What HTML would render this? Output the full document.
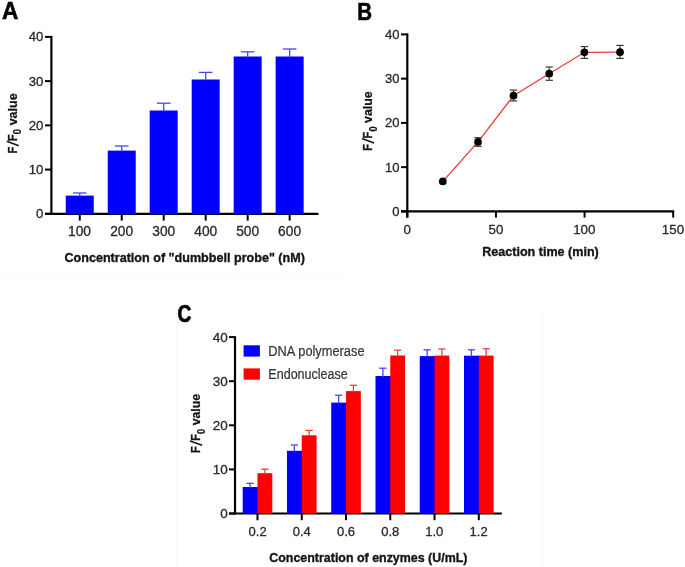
<!DOCTYPE html>
<html><head><meta charset="utf-8"><style>
html,body{margin:0;padding:0;background:#fff;}
body{width:685px;height:567px;overflow:hidden;}
svg{display:block;font-family:"Liberation Sans",sans-serif;filter:blur(0.45px);}
</style></head><body>
<svg width="685" height="567" viewBox="0 0 685 567">
<rect width="685" height="567" fill="#fff"/>
<line x1="176.80" y1="310.00" x2="176.80" y2="567.00" stroke="#f6f6f6" stroke-width="1" />
<line x1="542.00" y1="312.00" x2="542.00" y2="567.00" stroke="#f6f6f6" stroke-width="1" />
<line x1="0.00" y1="277.00" x2="340.00" y2="277.00" stroke="#f7f7f7" stroke-width="1" />
<text transform="translate(2.04,18.80) scale(0.9447,1)" font-size="23.98" font-weight="bold" fill="#000" stroke="#000" stroke-width="0.529"  xml:space="preserve">A</text>
<line x1="51.40" y1="35.90" x2="51.40" y2="214.80" stroke="#000" stroke-width="2.2" />
<line x1="45.00" y1="213.80" x2="51.40" y2="213.80" stroke="#000" stroke-width="2" />
<text transform="translate(36.08,218.20) scale(1.0000,1)" font-size="13.18" font-weight="normal" fill="#2a2a2a" stroke="#2a2a2a" stroke-width="0.300"  xml:space="preserve">0</text>
<line x1="45.00" y1="169.58" x2="51.40" y2="169.58" stroke="#000" stroke-width="2" />
<text transform="translate(28.75,173.98) scale(1.0000,1)" font-size="13.18" font-weight="normal" fill="#2a2a2a" stroke="#2a2a2a" stroke-width="0.300"  xml:space="preserve">10</text>
<line x1="45.00" y1="125.35" x2="51.40" y2="125.35" stroke="#000" stroke-width="2" />
<text transform="translate(28.75,129.75) scale(1.0000,1)" font-size="13.18" font-weight="normal" fill="#2a2a2a" stroke="#2a2a2a" stroke-width="0.300"  xml:space="preserve">20</text>
<line x1="45.00" y1="81.12" x2="51.40" y2="81.12" stroke="#000" stroke-width="2" />
<text transform="translate(28.75,85.53) scale(1.0000,1)" font-size="13.18" font-weight="normal" fill="#2a2a2a" stroke="#2a2a2a" stroke-width="0.300"  xml:space="preserve">30</text>
<line x1="45.00" y1="36.90" x2="51.40" y2="36.90" stroke="#000" stroke-width="2" />
<text transform="translate(28.75,41.30) scale(1.0000,1)" font-size="13.18" font-weight="normal" fill="#2a2a2a" stroke="#2a2a2a" stroke-width="0.300"  xml:space="preserve">40</text>
<line x1="45.00" y1="213.80" x2="318.50" y2="213.80" stroke="#000" stroke-width="2.2" />
<rect x="65.75" y="195.60" width="28.00" height="18.70" fill="#0000ff"/>
<line x1="79.75" y1="193.00" x2="79.75" y2="196.60" stroke="#4646f0" stroke-width="1.3" />
<line x1="72.95" y1="193.00" x2="86.55" y2="193.00" stroke="#4646f0" stroke-width="1.3" />
<line x1="79.75" y1="213.80" x2="79.75" y2="220.60" stroke="#000" stroke-width="2" />
<text transform="translate(68.02,235.80) scale(1.0000,1)" font-size="13.75" font-weight="normal" fill="#2a2a2a" stroke="#2a2a2a" stroke-width="0.300"  xml:space="preserve">100</text>
<rect x="107.73" y="150.60" width="28.00" height="63.70" fill="#0000ff"/>
<line x1="121.73" y1="146.00" x2="121.73" y2="151.60" stroke="#4646f0" stroke-width="1.3" />
<line x1="114.93" y1="146.00" x2="128.53" y2="146.00" stroke="#4646f0" stroke-width="1.3" />
<line x1="121.73" y1="213.80" x2="121.73" y2="220.60" stroke="#000" stroke-width="2" />
<text transform="translate(110.18,235.80) scale(1.0000,1)" font-size="13.75" font-weight="normal" fill="#2a2a2a" stroke="#2a2a2a" stroke-width="0.300"  xml:space="preserve">200</text>
<rect x="149.71" y="110.50" width="28.00" height="103.80" fill="#0000ff"/>
<line x1="163.71" y1="103.20" x2="163.71" y2="111.50" stroke="#4646f0" stroke-width="1.3" />
<line x1="156.91" y1="103.20" x2="170.51" y2="103.20" stroke="#4646f0" stroke-width="1.3" />
<line x1="163.71" y1="213.80" x2="163.71" y2="220.60" stroke="#000" stroke-width="2" />
<text transform="translate(152.24,235.80) scale(1.0000,1)" font-size="13.75" font-weight="normal" fill="#2a2a2a" stroke="#2a2a2a" stroke-width="0.300"  xml:space="preserve">300</text>
<rect x="191.69" y="79.50" width="28.00" height="134.80" fill="#0000ff"/>
<line x1="205.69" y1="72.40" x2="205.69" y2="80.50" stroke="#4646f0" stroke-width="1.3" />
<line x1="198.89" y1="72.40" x2="212.49" y2="72.40" stroke="#4646f0" stroke-width="1.3" />
<line x1="205.69" y1="213.80" x2="205.69" y2="220.60" stroke="#000" stroke-width="2" />
<text transform="translate(194.33,235.80) scale(1.0000,1)" font-size="13.75" font-weight="normal" fill="#2a2a2a" stroke="#2a2a2a" stroke-width="0.300"  xml:space="preserve">400</text>
<rect x="233.67" y="56.50" width="28.00" height="157.80" fill="#0000ff"/>
<line x1="247.67" y1="51.80" x2="247.67" y2="57.50" stroke="#4646f0" stroke-width="1.3" />
<line x1="240.87" y1="51.80" x2="254.47" y2="51.80" stroke="#4646f0" stroke-width="1.3" />
<line x1="247.67" y1="213.80" x2="247.67" y2="220.60" stroke="#000" stroke-width="2" />
<text transform="translate(236.19,235.80) scale(1.0000,1)" font-size="13.75" font-weight="normal" fill="#2a2a2a" stroke="#2a2a2a" stroke-width="0.300"  xml:space="preserve">500</text>
<rect x="275.65" y="56.50" width="28.00" height="157.80" fill="#0000ff"/>
<line x1="289.65" y1="49.00" x2="289.65" y2="57.50" stroke="#4646f0" stroke-width="1.3" />
<line x1="282.85" y1="49.00" x2="296.45" y2="49.00" stroke="#4646f0" stroke-width="1.3" />
<line x1="289.65" y1="213.80" x2="289.65" y2="220.60" stroke="#000" stroke-width="2" />
<text transform="translate(278.10,235.80) scale(1.0000,1)" font-size="13.75" font-weight="normal" fill="#2a2a2a" stroke="#2a2a2a" stroke-width="0.300"  xml:space="preserve">600</text>
<text transform="translate(64.48,262.20) scale(0.9215,1)" font-size="13.66" font-weight="bold" fill="#151515" stroke="#151515" stroke-width="0.380"  xml:space="preserve">Concentration of &quot;dumbbell probe&quot; (nM)</text>
<g transform="translate(17.00,152.80) rotate(-90)"><text transform="translate(-0.75,0.00) scale(0.8312,1)" font-size="13.52" font-weight="bold" fill="#151515" stroke="#151515" stroke-width="0.301"  xml:space="preserve">F</text><line x1="7.10" y1="1.8" x2="11.50" y2="-10.30" stroke="#151515" stroke-width="1.55"/><text transform="translate(11.65,0.00) scale(0.8312,1)" font-size="13.52" font-weight="bold" fill="#151515" stroke="#151515" stroke-width="0.301"  xml:space="preserve">F</text><text transform="translate(18.63,4.20) scale(0.9173,1)" font-size="10.32" font-weight="bold" fill="#151515" stroke="#151515" stroke-width="0.218"  xml:space="preserve">0</text><text transform="translate(27.45,0.00) scale(0.9624,1)" font-size="13.03" font-weight="bold" fill="#151515" stroke="#151515" stroke-width="0.260"  xml:space="preserve">value</text></g>
<text transform="translate(357.13,19.60) scale(0.8394,1)" font-size="24.42" font-weight="bold" fill="#000" stroke="#000" stroke-width="0.596"  xml:space="preserve">B</text>
<line x1="407.30" y1="33.40" x2="407.30" y2="217.60" stroke="#000" stroke-width="2.2" />
<line x1="401.00" y1="211.40" x2="407.30" y2="211.40" stroke="#000" stroke-width="2" />
<text transform="translate(392.16,215.90) scale(1.0000,1)" font-size="13.04" font-weight="normal" fill="#2a2a2a" stroke="#2a2a2a" stroke-width="0.300"  xml:space="preserve">0</text>
<line x1="401.00" y1="167.15" x2="407.30" y2="167.15" stroke="#000" stroke-width="2" />
<text transform="translate(384.91,171.65) scale(1.0000,1)" font-size="13.04" font-weight="normal" fill="#2a2a2a" stroke="#2a2a2a" stroke-width="0.300"  xml:space="preserve">10</text>
<line x1="401.00" y1="122.90" x2="407.30" y2="122.90" stroke="#000" stroke-width="2" />
<text transform="translate(384.91,127.40) scale(1.0000,1)" font-size="13.04" font-weight="normal" fill="#2a2a2a" stroke="#2a2a2a" stroke-width="0.300"  xml:space="preserve">20</text>
<line x1="401.00" y1="78.65" x2="407.30" y2="78.65" stroke="#000" stroke-width="2" />
<text transform="translate(384.91,83.15) scale(1.0000,1)" font-size="13.04" font-weight="normal" fill="#2a2a2a" stroke="#2a2a2a" stroke-width="0.300"  xml:space="preserve">30</text>
<line x1="401.00" y1="34.40" x2="407.30" y2="34.40" stroke="#000" stroke-width="2" />
<text transform="translate(384.91,38.90) scale(1.0000,1)" font-size="13.04" font-weight="normal" fill="#2a2a2a" stroke="#2a2a2a" stroke-width="0.300"  xml:space="preserve">40</text>
<line x1="401.00" y1="211.40" x2="674.20" y2="211.40" stroke="#000" stroke-width="2.2" />
<line x1="407.30" y1="211.40" x2="407.30" y2="217.60" stroke="#000" stroke-width="2" />
<text transform="translate(403.59,234.20) scale(1.0000,1)" font-size="13.32" font-weight="normal" fill="#2a2a2a" stroke="#2a2a2a" stroke-width="0.300"  xml:space="preserve">0</text>
<line x1="495.94" y1="211.40" x2="495.94" y2="217.60" stroke="#000" stroke-width="2" />
<text transform="translate(488.52,234.20) scale(1.0000,1)" font-size="13.32" font-weight="normal" fill="#2a2a2a" stroke="#2a2a2a" stroke-width="0.300"  xml:space="preserve">50</text>
<line x1="584.57" y1="211.40" x2="584.57" y2="217.60" stroke="#000" stroke-width="2" />
<text transform="translate(573.21,234.20) scale(1.0000,1)" font-size="13.32" font-weight="normal" fill="#2a2a2a" stroke="#2a2a2a" stroke-width="0.300"  xml:space="preserve">100</text>
<line x1="673.20" y1="211.40" x2="673.20" y2="217.60" stroke="#000" stroke-width="2" />
<text transform="translate(661.84,234.20) scale(1.0000,1)" font-size="13.32" font-weight="normal" fill="#2a2a2a" stroke="#2a2a2a" stroke-width="0.300"  xml:space="preserve">150</text>
<text transform="translate(482.26,255.90) scale(0.9498,1)" font-size="13.23" font-weight="bold" fill="#151515" stroke="#151515" stroke-width="0.369"  xml:space="preserve">Reaction time (min)</text>
<g transform="translate(372.30,149.90) rotate(-90)"><text transform="translate(-0.74,0.00) scale(0.8171,1)" font-size="13.52" font-weight="bold" fill="#151515" stroke="#151515" stroke-width="0.306"  xml:space="preserve">F</text><line x1="6.98" y1="1.8" x2="11.31" y2="-10.30" stroke="#151515" stroke-width="1.55"/><text transform="translate(11.45,0.00) scale(0.8171,1)" font-size="13.52" font-weight="bold" fill="#151515" stroke="#151515" stroke-width="0.306"  xml:space="preserve">F</text><text transform="translate(18.31,4.20) scale(0.9018,1)" font-size="10.32" font-weight="bold" fill="#151515" stroke="#151515" stroke-width="0.222"  xml:space="preserve">0</text><text transform="translate(26.99,0.00) scale(0.9461,1)" font-size="13.03" font-weight="bold" fill="#151515" stroke="#151515" stroke-width="0.264"  xml:space="preserve">value</text></g>
<path d="M442.80,181.40 L478.00,141.90 L513.50,95.70 L549.20,73.70 L584.40,52.30 L620.00,52.20" fill="none" stroke="#ee3b3b" stroke-width="1.3"/>
<line x1="478.00" y1="137.70" x2="478.00" y2="146.30" stroke="#3a3a3a" stroke-width="1.2" />
<line x1="474.30" y1="137.70" x2="481.70" y2="137.70" stroke="#3a3a3a" stroke-width="1.2" />
<line x1="474.30" y1="146.30" x2="481.70" y2="146.30" stroke="#3a3a3a" stroke-width="1.2" />
<line x1="513.50" y1="90.10" x2="513.50" y2="100.90" stroke="#3a3a3a" stroke-width="1.2" />
<line x1="509.80" y1="90.10" x2="517.20" y2="90.10" stroke="#3a3a3a" stroke-width="1.2" />
<line x1="509.80" y1="100.90" x2="517.20" y2="100.90" stroke="#3a3a3a" stroke-width="1.2" />
<line x1="549.20" y1="67.00" x2="549.20" y2="80.30" stroke="#3a3a3a" stroke-width="1.2" />
<line x1="545.50" y1="67.00" x2="552.90" y2="67.00" stroke="#3a3a3a" stroke-width="1.2" />
<line x1="545.50" y1="80.30" x2="552.90" y2="80.30" stroke="#3a3a3a" stroke-width="1.2" />
<line x1="584.40" y1="46.60" x2="584.40" y2="58.40" stroke="#3a3a3a" stroke-width="1.2" />
<line x1="580.70" y1="46.60" x2="588.10" y2="46.60" stroke="#3a3a3a" stroke-width="1.2" />
<line x1="580.70" y1="58.40" x2="588.10" y2="58.40" stroke="#3a3a3a" stroke-width="1.2" />
<line x1="620.00" y1="45.40" x2="620.00" y2="58.40" stroke="#3a3a3a" stroke-width="1.2" />
<line x1="616.30" y1="45.40" x2="623.70" y2="45.40" stroke="#3a3a3a" stroke-width="1.2" />
<line x1="616.30" y1="58.40" x2="623.70" y2="58.40" stroke="#3a3a3a" stroke-width="1.2" />
<circle cx="442.80" cy="181.40" r="3.85" fill="#000"/>
<circle cx="478.00" cy="141.90" r="3.85" fill="#000"/>
<circle cx="513.50" cy="95.70" r="3.85" fill="#000"/>
<circle cx="549.20" cy="73.70" r="3.85" fill="#000"/>
<circle cx="584.40" cy="52.30" r="3.85" fill="#000"/>
<circle cx="620.00" cy="52.20" r="3.85" fill="#000"/>
<text transform="translate(177.52,321.60) scale(0.8021,1)" font-size="23.84" font-weight="bold" fill="#000" stroke="#000" stroke-width="0.748"  xml:space="preserve">C</text>
<line x1="235.00" y1="336.10" x2="235.00" y2="514.50" stroke="#000" stroke-width="2.2" />
<line x1="229.00" y1="513.50" x2="235.00" y2="513.50" stroke="#000" stroke-width="2" />
<text transform="translate(220.14,518.30) scale(1.0000,1)" font-size="13.47" font-weight="normal" fill="#2a2a2a" stroke="#2a2a2a" stroke-width="0.300"  xml:space="preserve">0</text>
<line x1="229.00" y1="469.40" x2="235.00" y2="469.40" stroke="#000" stroke-width="2" />
<text transform="translate(212.65,474.20) scale(1.0000,1)" font-size="13.47" font-weight="normal" fill="#2a2a2a" stroke="#2a2a2a" stroke-width="0.300"  xml:space="preserve">10</text>
<line x1="229.00" y1="425.30" x2="235.00" y2="425.30" stroke="#000" stroke-width="2" />
<text transform="translate(212.65,430.10) scale(1.0000,1)" font-size="13.47" font-weight="normal" fill="#2a2a2a" stroke="#2a2a2a" stroke-width="0.300"  xml:space="preserve">20</text>
<line x1="229.00" y1="381.20" x2="235.00" y2="381.20" stroke="#000" stroke-width="2" />
<text transform="translate(212.65,386.00) scale(1.0000,1)" font-size="13.47" font-weight="normal" fill="#2a2a2a" stroke="#2a2a2a" stroke-width="0.300"  xml:space="preserve">30</text>
<line x1="229.00" y1="337.10" x2="235.00" y2="337.10" stroke="#000" stroke-width="2" />
<text transform="translate(212.65,341.90) scale(1.0000,1)" font-size="13.47" font-weight="normal" fill="#2a2a2a" stroke="#2a2a2a" stroke-width="0.300"  xml:space="preserve">40</text>
<line x1="229.00" y1="513.50" x2="501.80" y2="513.50" stroke="#000" stroke-width="2.2" />
<rect x="242.70" y="487.00" width="15.80" height="26.50" fill="#0000ff"/>
<rect x="257.50" y="473.20" width="14.80" height="40.30" fill="#ff0000"/>
<line x1="250.10" y1="483.30" x2="250.10" y2="488.00" stroke="#4646f0" stroke-width="1.3" />
<line x1="246.50" y1="483.30" x2="253.70" y2="483.30" stroke="#4646f0" stroke-width="1.3" />
<line x1="264.90" y1="469.20" x2="264.90" y2="474.20" stroke="#f04040" stroke-width="1.3" />
<line x1="261.30" y1="469.20" x2="268.50" y2="469.20" stroke="#f04040" stroke-width="1.3" />
<line x1="257.50" y1="513.50" x2="257.50" y2="520.20" stroke="#000" stroke-width="2" />
<text transform="translate(248.51,535.90) scale(1.0000,1)" font-size="13.04" font-weight="normal" fill="#2a2a2a" stroke="#2a2a2a" stroke-width="0.300"  xml:space="preserve">0.2</text>
<rect x="286.96" y="450.80" width="15.80" height="62.70" fill="#0000ff"/>
<rect x="301.76" y="435.30" width="14.80" height="78.20" fill="#ff0000"/>
<line x1="294.36" y1="445.00" x2="294.36" y2="451.80" stroke="#4646f0" stroke-width="1.3" />
<line x1="290.76" y1="445.00" x2="297.96" y2="445.00" stroke="#4646f0" stroke-width="1.3" />
<line x1="309.16" y1="430.40" x2="309.16" y2="436.30" stroke="#f04040" stroke-width="1.3" />
<line x1="305.56" y1="430.40" x2="312.76" y2="430.40" stroke="#f04040" stroke-width="1.3" />
<line x1="301.76" y1="513.50" x2="301.76" y2="520.20" stroke="#000" stroke-width="2" />
<text transform="translate(292.63,535.90) scale(1.0000,1)" font-size="13.04" font-weight="normal" fill="#2a2a2a" stroke="#2a2a2a" stroke-width="0.300"  xml:space="preserve">0.4</text>
<rect x="331.22" y="402.60" width="15.80" height="110.90" fill="#0000ff"/>
<rect x="346.02" y="391.10" width="14.80" height="122.40" fill="#ff0000"/>
<line x1="338.62" y1="395.20" x2="338.62" y2="403.60" stroke="#4646f0" stroke-width="1.3" />
<line x1="335.02" y1="395.20" x2="342.22" y2="395.20" stroke="#4646f0" stroke-width="1.3" />
<line x1="353.42" y1="385.30" x2="353.42" y2="392.10" stroke="#f04040" stroke-width="1.3" />
<line x1="349.82" y1="385.30" x2="357.02" y2="385.30" stroke="#f04040" stroke-width="1.3" />
<line x1="346.02" y1="513.50" x2="346.02" y2="520.20" stroke="#000" stroke-width="2" />
<text transform="translate(336.99,535.90) scale(1.0000,1)" font-size="13.04" font-weight="normal" fill="#2a2a2a" stroke="#2a2a2a" stroke-width="0.300"  xml:space="preserve">0.6</text>
<rect x="375.48" y="376.00" width="15.80" height="137.50" fill="#0000ff"/>
<rect x="390.28" y="355.50" width="14.80" height="158.00" fill="#ff0000"/>
<line x1="382.88" y1="368.20" x2="382.88" y2="377.00" stroke="#4646f0" stroke-width="1.3" />
<line x1="379.28" y1="368.20" x2="386.48" y2="368.20" stroke="#4646f0" stroke-width="1.3" />
<line x1="397.68" y1="350.20" x2="397.68" y2="356.50" stroke="#f04040" stroke-width="1.3" />
<line x1="394.08" y1="350.20" x2="401.28" y2="350.20" stroke="#f04040" stroke-width="1.3" />
<line x1="390.28" y1="513.50" x2="390.28" y2="520.20" stroke="#000" stroke-width="2" />
<text transform="translate(381.25,535.90) scale(1.0000,1)" font-size="13.04" font-weight="normal" fill="#2a2a2a" stroke="#2a2a2a" stroke-width="0.300"  xml:space="preserve">0.8</text>
<rect x="419.74" y="356.10" width="15.80" height="157.40" fill="#0000ff"/>
<rect x="434.54" y="355.60" width="14.80" height="157.90" fill="#ff0000"/>
<line x1="427.14" y1="349.80" x2="427.14" y2="357.10" stroke="#4646f0" stroke-width="1.3" />
<line x1="423.54" y1="349.80" x2="430.74" y2="349.80" stroke="#4646f0" stroke-width="1.3" />
<line x1="441.94" y1="349.00" x2="441.94" y2="356.60" stroke="#f04040" stroke-width="1.3" />
<line x1="438.34" y1="349.00" x2="445.54" y2="349.00" stroke="#f04040" stroke-width="1.3" />
<line x1="434.54" y1="513.50" x2="434.54" y2="520.20" stroke="#000" stroke-width="2" />
<text transform="translate(425.24,535.90) scale(1.0000,1)" font-size="13.04" font-weight="normal" fill="#2a2a2a" stroke="#2a2a2a" stroke-width="0.300"  xml:space="preserve">1.0</text>
<rect x="464.00" y="355.70" width="15.80" height="157.80" fill="#0000ff"/>
<rect x="478.80" y="355.60" width="14.80" height="157.90" fill="#ff0000"/>
<line x1="471.40" y1="349.80" x2="471.40" y2="356.70" stroke="#4646f0" stroke-width="1.3" />
<line x1="467.80" y1="349.80" x2="475.00" y2="349.80" stroke="#4646f0" stroke-width="1.3" />
<line x1="486.20" y1="348.70" x2="486.20" y2="356.60" stroke="#f04040" stroke-width="1.3" />
<line x1="482.60" y1="348.70" x2="489.80" y2="348.70" stroke="#f04040" stroke-width="1.3" />
<line x1="478.80" y1="513.50" x2="478.80" y2="520.20" stroke="#000" stroke-width="2" />
<text transform="translate(469.57,535.90) scale(1.0000,1)" font-size="13.04" font-weight="normal" fill="#2a2a2a" stroke="#2a2a2a" stroke-width="0.300"  xml:space="preserve">1.2</text>
<text transform="translate(269.29,562.10) scale(0.9403,1)" font-size="13.23" font-weight="bold" fill="#151515" stroke="#151515" stroke-width="0.372"  xml:space="preserve">Concentration of enzymes (U/mL)</text>
<g transform="translate(200.30,452.20) rotate(-90)"><text transform="translate(-0.74,0.00) scale(0.8143,1)" font-size="13.52" font-weight="bold" fill="#151515" stroke="#151515" stroke-width="0.307"  xml:space="preserve">F</text><line x1="6.96" y1="1.8" x2="11.27" y2="-10.30" stroke="#151515" stroke-width="1.55"/><text transform="translate(11.41,0.00) scale(0.8143,1)" font-size="13.52" font-weight="bold" fill="#151515" stroke="#151515" stroke-width="0.307"  xml:space="preserve">F</text><text transform="translate(18.25,4.20) scale(0.8987,1)" font-size="10.32" font-weight="bold" fill="#151515" stroke="#151515" stroke-width="0.223"  xml:space="preserve">0</text><text transform="translate(26.89,0.00) scale(0.9429,1)" font-size="13.03" font-weight="bold" fill="#151515" stroke="#151515" stroke-width="0.265"  xml:space="preserve">value</text></g>
<rect x="243.60" y="345.30" width="16.30" height="11.30" fill="#0000ff"/>
<rect x="243.60" y="368.40" width="16.30" height="11.30" fill="#ff0000"/>
<text transform="translate(268.35,356.00) scale(0.9095,1)" font-size="14.10" font-weight="normal" fill="#333" stroke="#333" stroke-width="0.198"  xml:space="preserve">DNA polymerase</text>
<text transform="translate(268.37,379.00) scale(0.8987,1)" font-size="13.95" font-weight="normal" fill="#333" stroke="#333" stroke-width="0.200"  xml:space="preserve">Endonuclease</text>
</svg>
</body></html>
